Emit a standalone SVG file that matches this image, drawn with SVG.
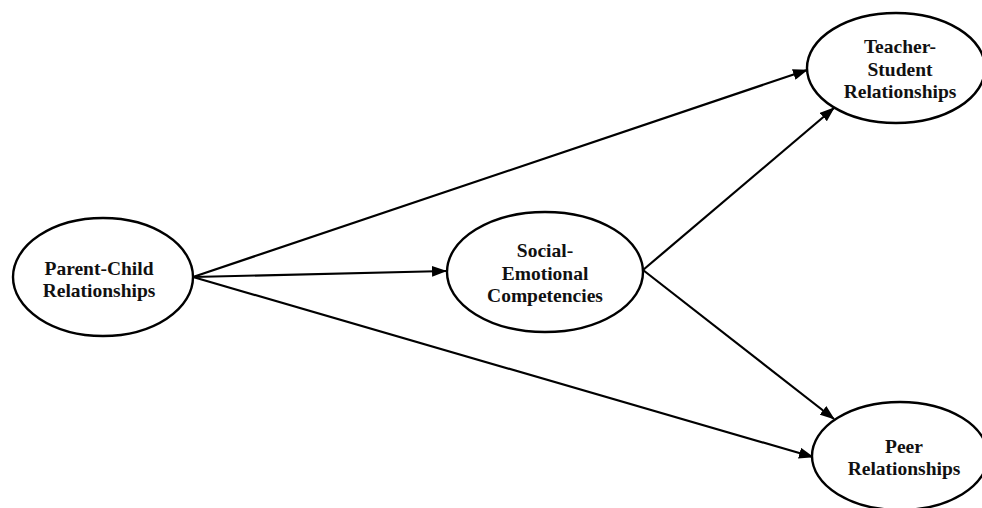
<svg xmlns="http://www.w3.org/2000/svg" width="982" height="508" viewBox="0 0 982 508">
<defs>
<marker id="ah" markerWidth="15" markerHeight="11" refX="14" refY="5.5" orient="auto" markerUnits="userSpaceOnUse">
<path d="M0,0 L15,5.5 L0,11 Z" fill="#000"/>
</marker>
<style>
.node ellipse{fill:#fff;stroke:#000;stroke-width:2.4}
.node text{font-family:"Liberation Serif","Times New Roman",serif;font-weight:bold;font-size:19.5px;text-anchor:middle;fill:#111}
.edges line{stroke:#000;stroke-width:2.2;marker-end:url(#ah)}
</style>
</defs>
<rect width="982" height="508" fill="#fff"/>
<g class="edges">
<line x1="193" y1="277" x2="807" y2="70"/>
<line x1="193" y1="277" x2="446" y2="271"/>
<line x1="193" y1="277" x2="813" y2="457"/>
<line x1="643" y1="270" x2="834" y2="108"/>
<line x1="643" y1="270" x2="834" y2="419"/>
</g>
<g id="parent-child" class="node">
<ellipse cx="103" cy="277" rx="90" ry="59"/>
<text x="99" y="275">Parent-Child</text>
<text x="99" y="297">Relationships</text>
</g>
<g id="social-emotional" class="node">
<ellipse cx="545" cy="272" rx="98" ry="60"/>
<text x="545" y="257">Social-</text>
<text x="545" y="280">Emotional</text>
<text x="545" y="302">Competencies</text>
</g>
<g id="teacher-student" class="node">
<ellipse cx="896" cy="68" rx="89" ry="55"/>
<text x="900" y="53">Teacher-</text>
<text x="900" y="76">Student</text>
<text x="900" y="98">Relationships</text>
</g>
<g id="peer" class="node">
<ellipse cx="900" cy="456" rx="88" ry="54"/>
<text x="904" y="453">Peer</text>
<text x="904" y="475">Relationships</text>
</g>
</svg>
